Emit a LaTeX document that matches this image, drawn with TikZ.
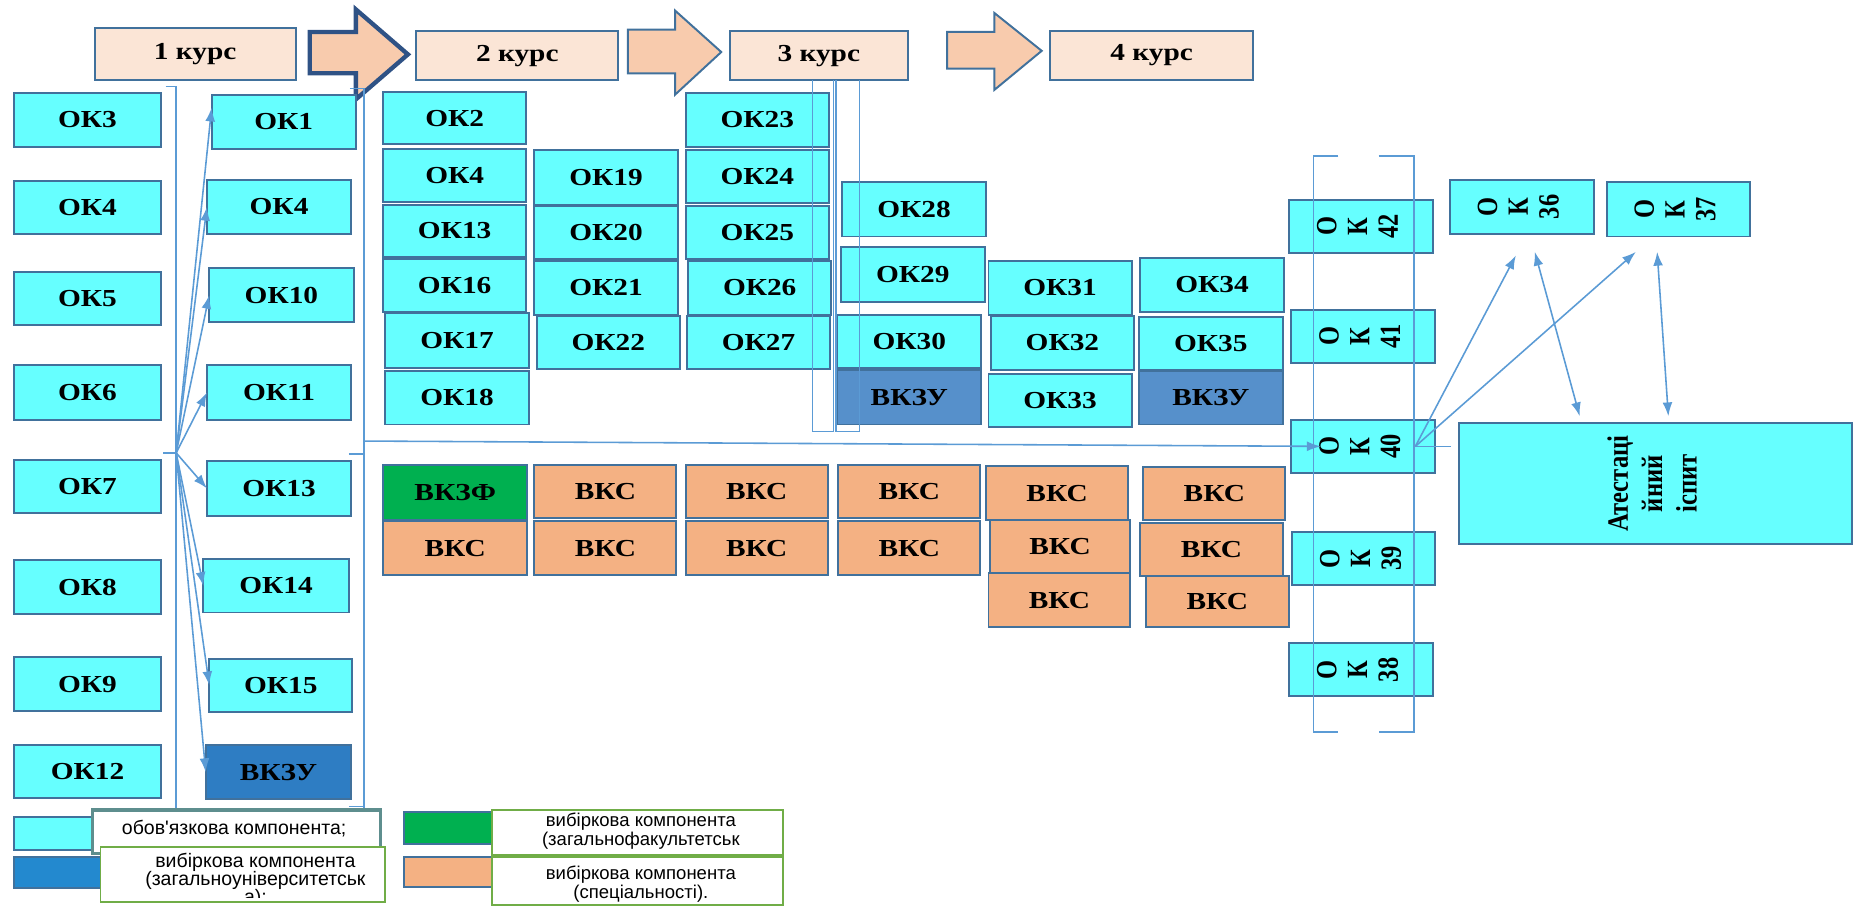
\documentclass[tikz,border=0pt]{standalone}
\usepackage{fontspec}
\usepackage{graphicx}
\setmainfont{Liberation Serif}
\newfontfamily\lsans{Liberation Sans}
\usetikzlibrary{arrows.meta,calc}

\definecolor{cyanf}{HTML}{66FFFF}
\definecolor{bord}{HTML}{41719C}
\definecolor{vkzuA}{HTML}{2E7DC3}
\definecolor{vkzuB}{HTML}{5690CB}
\definecolor{grn}{HTML}{00B050}
\definecolor{peach}{HTML}{F4B183}
\definecolor{hdr}{HTML}{FBE5D6}
\definecolor{arrf}{HTML}{F8CBAD}
\definecolor{navy}{HTML}{2F5285}
\definecolor{connc}{HTML}{5B9BD5}
\definecolor{lgreen}{HTML}{70AD47}
\definecolor{tealc}{HTML}{5E8E8E}
\definecolor{legblue}{HTML}{2389CF}

\newcommand{\sx}[1]{\scalebox{1.2}[1]{#1}}
\newcommand{\lblf}{\fontsize{12.4}{14}\selectfont\bfseries}
\newcommand{\legf}{\lsans\fontsize{9.9}{11}\selectfont}
\newcommand{\legg}{\lsans\fontsize{9.4}{11}\selectfont}
\newcommand{\bx}[7]{\node[#6, minimum width={(#4-#2)*0.6pt}, minimum height={(#5-#3)*0.6pt}] (#1) at ({(#2+#4)/2},{(#3+#5)/2}) {#7};}
\newcommand{\vlab}[1]{\sx{\rotatebox{90}{\fontsize{12.4}{13}\selectfont\bfseries\begin{tabular}{@{}c@{}}О\\К\\#1\end{tabular}}}}

\tikzset{
  cbox/.style={draw=bord, line width=1pt, inner sep=0pt, outer sep=0pt, font=\lblf, align=center},
  okb/.style={cbox, fill=cyanf},
  vzu/.style={cbox, fill=vkzuA},
  vzuu/.style={cbox, fill=vkzuB},
  vzf/.style={cbox, fill=grn},
  vks/.style={cbox, fill=peach},
  hdrb/.style={cbox, fill=hdr},
  legb/.style={draw=lgreen, line width=1pt, fill=white, inner sep=0pt, outer sep=0pt},
  legt/.style={font=\legf, anchor=base, inner sep=0pt},
  legr/.style={font=\legg, anchor=base, inner sep=0pt},
  conn/.style={draw=connc, line width=0.8pt},
  arr/.style={conn, -{Latex[length=7pt,width=5pt]}},
  darr/.style={conn, {Latex[length=7pt,width=5pt]}-{Latex[length=7pt,width=5pt]}},
  harrow/.style={fill=arrf, draw=bord, line width=1pt, line join=miter}
}

\begin{document}
\begin{tikzpicture}[x=0.6pt, y=-0.6pt]
\useasboundingbox (0,0) rectangle (1568,766);

% header
\bx{h1}{80}{24}{250}{68}{hdrb}{\sx{1 курс}}
\bx{h2}{352}{26}{523}{68}{hdrb}{\sx{2 курс}}
\bx{h3}{617}{26}{768}{68}{hdrb}{\sx{3 курс}}
\bx{h4}{888}{26}{1060}{68}{hdrb}{\sx{4 курс}}
\draw[harrow, draw=navy, line width=2.2pt] (262,27) -- (301,27) -- (301,8) -- (345,46) -- (301,84) -- (301,62) -- (262,62) -- cycle;
\draw[harrow] (531,25) -- (571,25) -- (571,9) -- (610,44) -- (571,80) -- (571,62) -- (531,62) -- cycle;
\draw[harrow] (801,27) -- (841,27) -- (841,11) -- (881,43) -- (841,76) -- (841,58) -- (801,58) -- cycle;

% 1 kurs left column
\bx{a3}{12}{79}{136}{124}{okb}{\sx{ОК3}}
\bx{a4}{12}{153}{136}{198}{okb}{\sx{ОК4}}
\bx{a5}{12}{230}{136}{275}{okb}{\sx{ОК5}}
\bx{a6}{12}{309}{136}{355}{okb}{\sx{ОК6}}
\bx{a7}{12}{389}{136}{434}{okb}{\sx{ОК7}}
\bx{a8}{12}{474}{136}{519}{okb}{\sx{ОК8}}
\bx{a9}{12}{556}{136}{601}{okb}{\sx{ОК9}}
\bx{a12}{12}{630}{136}{675}{okb}{\sx{ОК12}}

% 1 kurs right column
\bx{b1}{179}{80}{301}{126}{okb}{\sx{ОК1}}
\bx{b4}{175}{152}{297}{198}{okb}{\sx{ОК4}}
\bx{b10}{177}{227}{299}{272}{okb}{\sx{ОК10}}
\bx{b11}{175}{309}{297}{355}{okb}{\sx{ОК11}}
\bx{b13}{175}{390}{297}{436}{okb}{\sx{ОК13}}
\bx{b14}{172}{473}{295}{518}{okb}{\sx{ОК14}}
\bx{b15}{177}{557}{298}{602}{okb}{\sx{ОК15}}
\bx{bv}{174}{630}{297}{676}{vzu}{\sx{ВКЗУ}}

% 2 kurs
\bx{c2}{324}{78}{445}{122}{okb}{\sx{ОК2}}
\bx{c4}{324}{126}{445}{171}{okb}{\sx{ОК4}}
\bx{c13}{324}{173}{445}{217}{okb}{\sx{ОК13}}
\bx{c16}{324}{219}{445}{264}{okb}{\sx{ОК16}}
\bx{c17}{326}{265}{447}{311}{okb}{\sx{ОК17}}
\bx{c18}{326}{314}{447}{359}{okb}{\sx{ОК18}}
\bx{c19}{452}{127}{573}{173}{okb}{\sx{ОК19}}
\bx{c20}{452}{174}{573}{219}{okb}{\sx{ОК20}}
\bx{c21}{452}{221}{573}{266}{okb}{\sx{ОК21}}
\bx{c22}{454}{267}{575}{312}{okb}{\sx{ОК22}}
\bx{c23}{580}{79}{701}{124}{okb}{\sx{ОК23}}
\bx{c24}{580}{127}{701}{172}{okb}{\sx{ОК24}}
\bx{c25}{580}{174}{701}{219}{okb}{\sx{ОК25}}
\bx{c26}{582}{221}{703}{266}{okb}{\sx{ОК26}}
\bx{c27}{581}{267}{702}{312}{okb}{\sx{ОК27}}

% 3-4 kurs
\bx{d28}{712}{154}{834}{200}{okb}{\sx{ОК28}}
\bx{d29}{711}{209}{833}{255}{okb}{\sx{ОК29}}
\bx{d30}{708}{266}{830}{311}{okb}{\sx{ОК30}}
\bx{dv1}{708}{313}{830}{359}{vzuu}{\sx{ВКЗУ}}
\bx{d31}{836}{221}{957}{266}{okb}{\sx{ОК31}}
\bx{d32}{838}{267}{959}{313}{okb}{\sx{ОК32}}
\bx{d33}{836}{316}{957}{361}{okb}{\sx{ОК33}}
\bx{d34}{964}{218}{1086}{264}{okb}{\sx{ОК34}}
\bx{d35}{963}{268}{1085}{313}{okb}{\sx{ОК35}}
\bx{dv2}{963}{314}{1085}{359}{vzuu}{\sx{ВКЗУ}}

% VKS block
\bx{e1}{324}{393}{446}{440}{vzf}{\sx{ВКЗФ}}
\bx{e2}{452}{393}{572}{438}{vks}{\sx{ВКС}}
\bx{e3}{580}{393}{700}{438}{vks}{\sx{ВКС}}
\bx{e4}{709}{393}{829}{438}{vks}{\sx{ВКС}}
\bx{e5}{834}{394}{954}{440}{vks}{\sx{ВКС}}
\bx{e6}{967}{395}{1087}{440}{vks}{\sx{ВКС}}
\bx{f1}{324}{441}{446}{486}{vks}{\sx{ВКС}}
\bx{f2}{452}{441}{572}{486}{vks}{\sx{ВКС}}
\bx{f3}{580}{441}{700}{486}{vks}{\sx{ВКС}}
\bx{f4}{709}{441}{829}{486}{vks}{\sx{ВКС}}
\bx{f5}{837}{440}{956}{485}{vks}{\sx{ВКС}}
\bx{f6}{964}{442}{1085}{487}{vks}{\sx{ВКС}}
\bx{g5}{836}{485}{956}{530}{vks}{\sx{ВКС}}
\bx{g6}{969}{487}{1090}{530}{vks}{\sx{ВКС}}

% right part
\bx{ok42}{1090}{169}{1212}{214}{okb}{\vlab{42}}
\bx{ok41}{1092}{262}{1214}{307}{okb}{\vlab{41}}
\bx{ok40}{1092}{355}{1214}{400}{okb}{\vlab{40}}
\bx{ok39}{1093}{450}{1214}{495}{okb}{\vlab{39}}
\bx{ok38}{1090}{544}{1212}{589}{okb}{\vlab{38}}
\bx{ok36}{1226}{152}{1348}{198}{okb}{\vlab{36}}
\bx{ok37}{1359}{154}{1480}{200}{okb}{\vlab{37}}
\bx{ate}{1234}{358}{1566}{460}{okb}{\sx{\rotatebox{90}{\fontsize{12.5}{14.5}\selectfont\bfseries\begin{tabular}{@{}c@{}}Атестаці\\йний\\іспит\end{tabular}}}}

% bracket lines
\draw[conn] (140,73) -- (149,73) -- (149,685);
\draw[conn] (296,75) -- (308,75) -- (308,685);
\draw[conn] (138,383) -- (149,383);
\draw[conn] (295,384) -- (308,384);
\draw[conn] (295,682) -- (308,682);
\draw[conn] (687,68) -- (687,365) -- (705,365) -- (705,68);
\draw[conn] (707,68) -- (707,365) -- (727,365) -- (727,68);
\draw[conn] (1132,132) -- (1111,132) -- (1111,619) -- (1132,619);
\draw[conn] (1166,132) -- (1196,132) -- (1196,619) -- (1166,619);

% connectors
\coordinate (src) at (149,383);
\coordinate (bk) at (308,373);
\draw[arr] (src) -- ($(b1.west)+(0,-12)$);
\draw[arr] (src) -- (b4.west);
\draw[arr] (src) -- (b10.west);
\draw[arr] (src) -- (b11.west);
\draw[arr] (src) -- (b13.west);
\draw[arr] (src) -- (b14.west);
\draw[arr] (src) -- (b15.west);
\draw[arr] (src) -- (bv.west);
\draw[arr] (bk) -- ($(ok40.west)+(25,0)$);
\coordinate (o40r) at ($(ok40.east)+(-17,0)$);
\draw[conn] (o40r) -- ++(30,0);
\draw[arr] (o40r) -- ($(ok36.south)+(-5,18)$);
\draw[arr] (o40r) -- ($(ok37.south)+(-36,13)$);
\draw[darr] ($(ok36.south)+(11,15)$) -- ($(ate.north)+(-64,-6)$);
\draw[darr] ($(ok37.south)+(-18,13)$) -- ($(ate.north)+(11,-6)$);

% legend
\bx{lc}{12}{691}{90}{719}{cbox, fill=cyanf}{}
\bx{lb}{12}{725}{90}{751}{cbox, fill=legblue}{}
\bx{lg}{342}{687}{420}{714}{cbox, fill=grn}{}
\bx{lp}{342}{725}{420}{750}{cbox, fill=peach}{}
\bx{lt1}{78}{685}{322}{722}{legb, draw=tealc, line width=1.6pt}{}
\node[legt] (lt1a) at (198,706) {обов'язкова компонента;};
\bx{lt2}{85}{716}{326}{763}{legb}{}
\begin{scope}
  \clip (85,716) rectangle (326,759);
  \node[legt] (lt2a) at (216,734) {вибіркова компонента};
  \node[legt] (lt2b) at (216,749) {(загальноуніверситетськ};
  \node[legt] (lt2c) at (216,764) {а);};
\end{scope}
\bx{lt3}{416}{685}{662}{723}{legb}{}
\node[legr] (lt3a) at (542,699) {вибіркова компонента};
\node[legr] (lt3b) at (542,715) {(загальнофакультетськ};
\bx{lt4}{416}{725}{662}{765}{legb}{}
\node[legr] (lt4a) at (542,744) {вибіркова компонента};
\node[legr] (lt4b) at (542,760) {(спеціальності).};
\end{tikzpicture}
\end{document}
